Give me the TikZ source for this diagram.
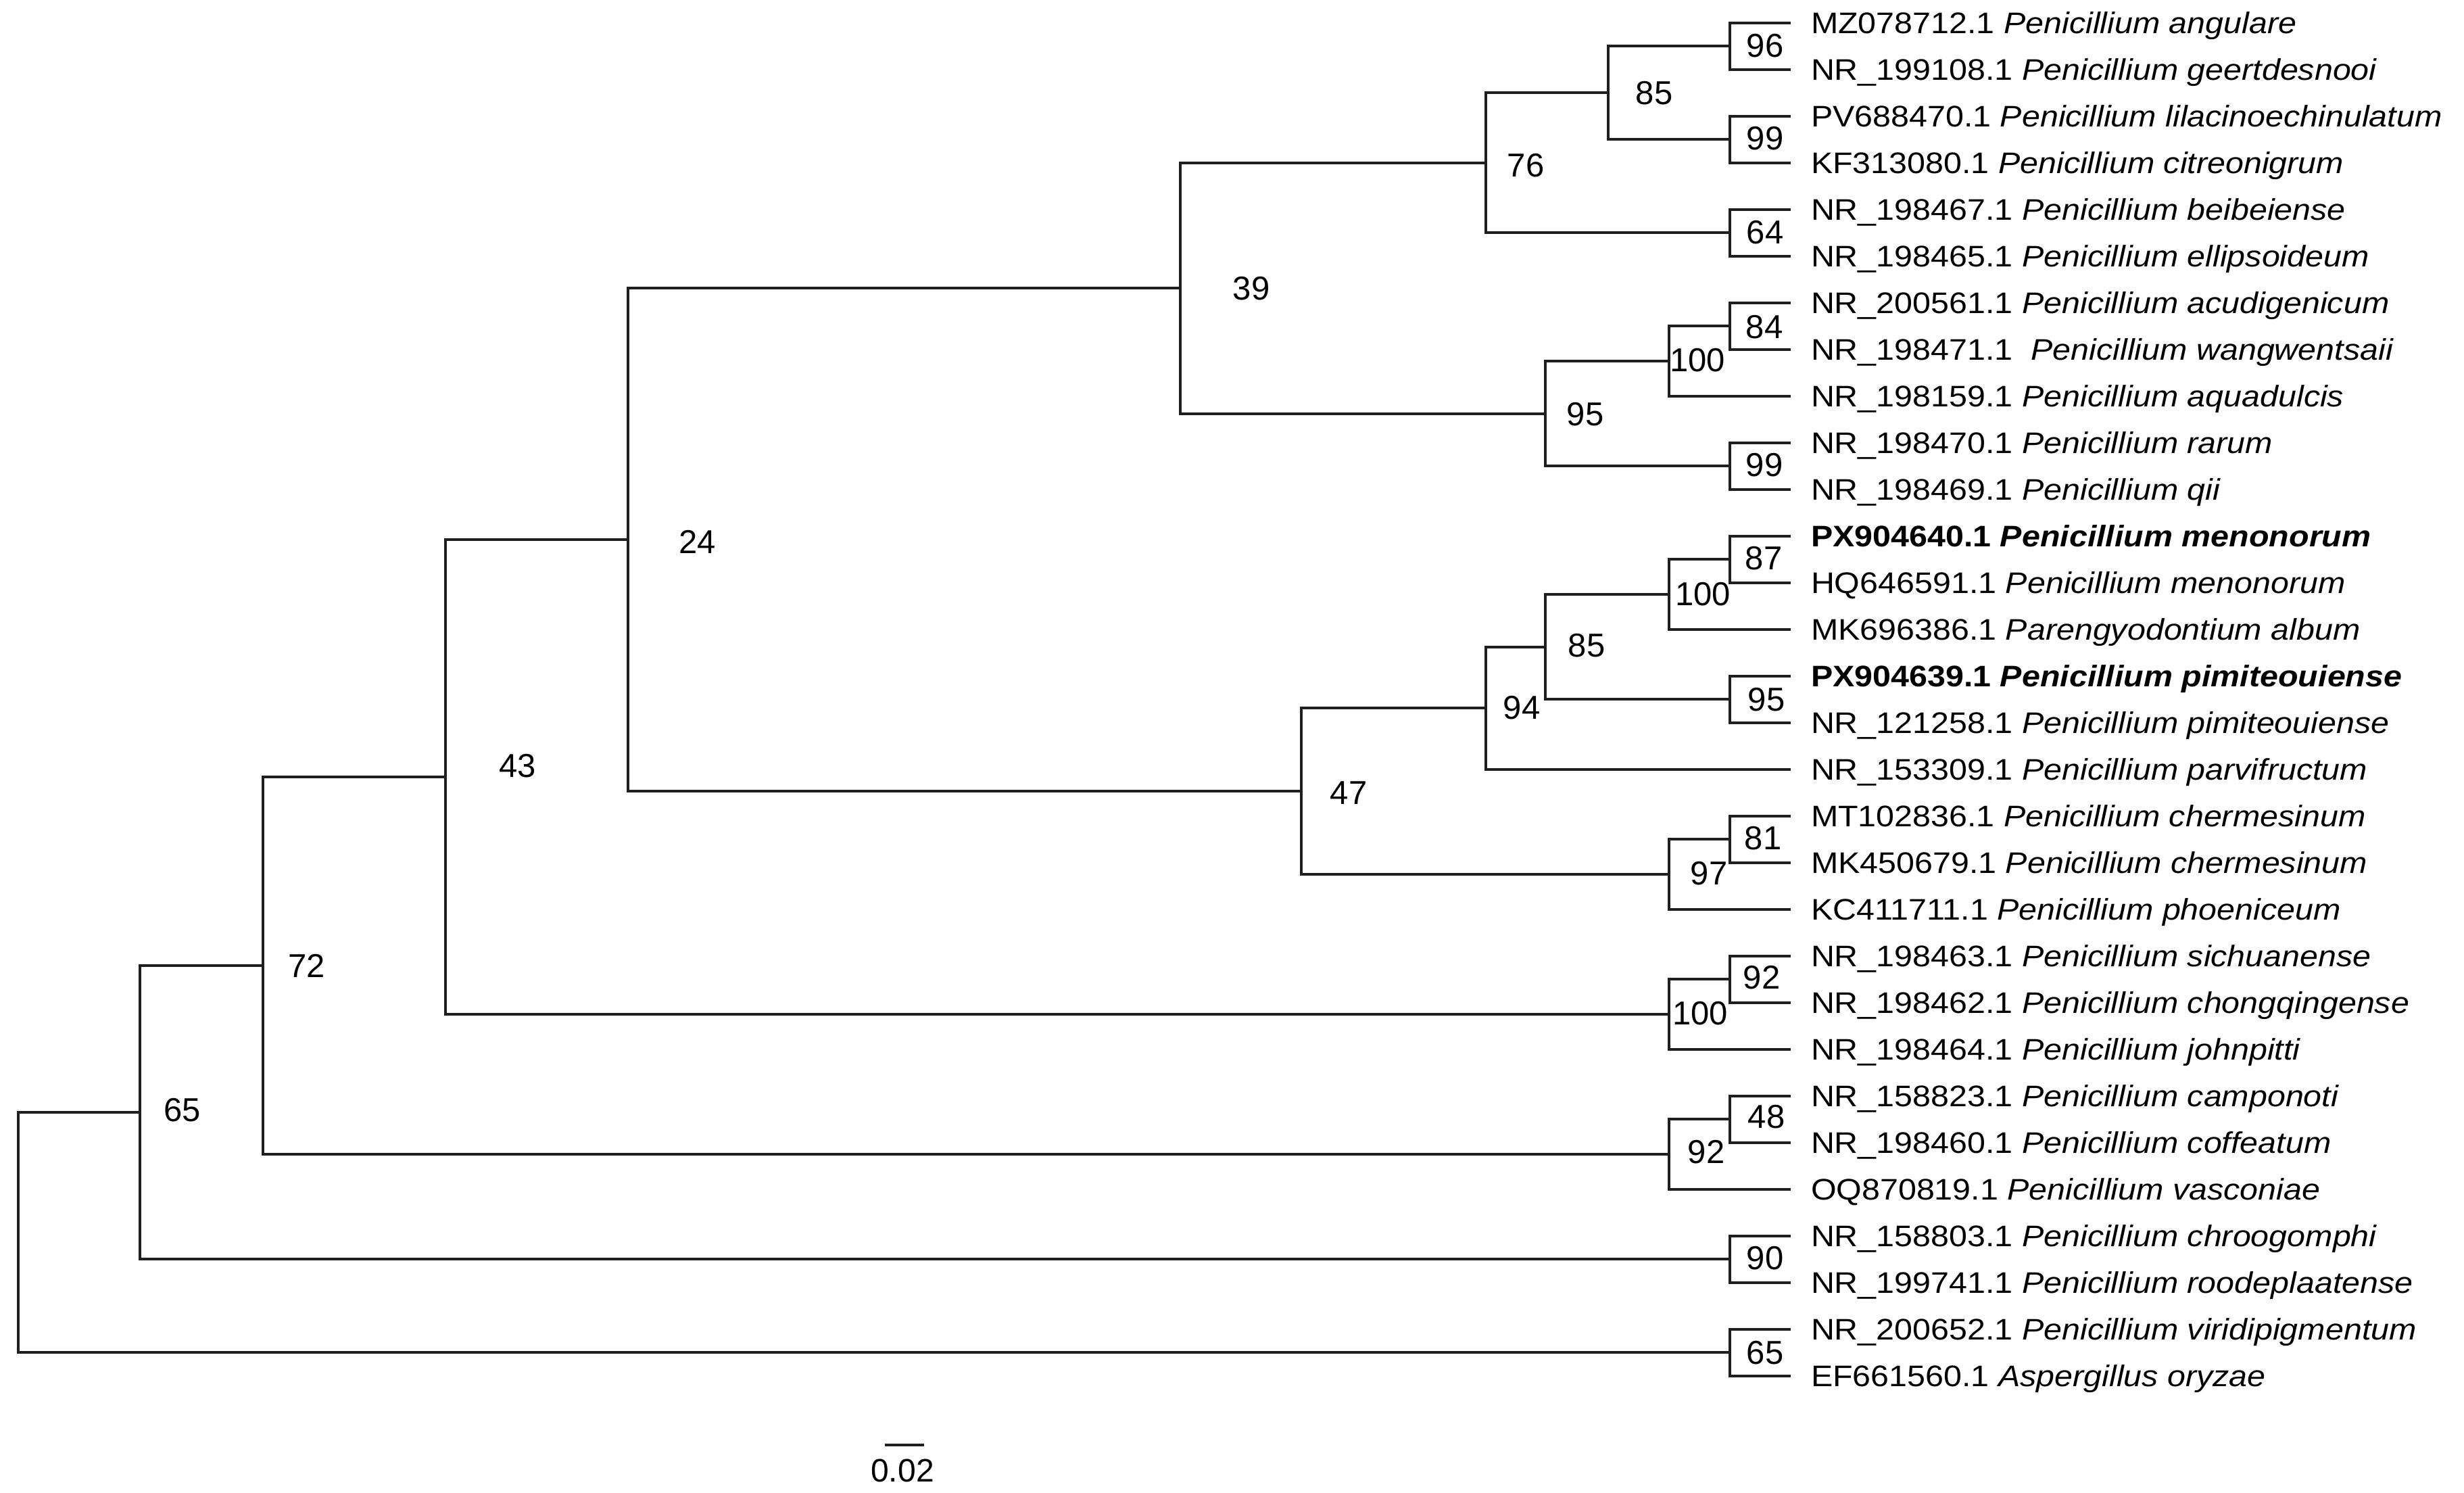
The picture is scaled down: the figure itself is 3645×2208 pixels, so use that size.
\documentclass[tikz,border=0pt]{standalone}
\usepackage{fontspec}
\setmainfont{Liberation Sans}
\newfontfamily\leaffont[FakeStretch=1.1]{Liberation Sans}
\usetikzlibrary{calc}
\newcommand{\leafrow}[3]{%
  \coordinate (t#1) at (2649,#2);
  \node[leaflabel] (l#1) at (2678,#2+15.75) {#3};
}
\begin{document}
\begin{tikzpicture}[x=0.2pt,y=-0.2pt,
  branch/.style={line width=0.8pt, draw=black!88},
  leaflabel/.style={anchor=base west, inner sep=0pt, font=\leaffont\fontsize{8.8pt}{10pt}\selectfont},
  boot/.style={inner sep=0pt, font=\fontsize{9.8pt}{11pt}\selectfont}]
\useasboundingbox[fill=white] (0,0) rectangle (3645,2208);

% leaves
\leafrow{1}{34}{MZ078712.1 \textit{Penicillium angulare}}
\leafrow{2}{103}{NR\_199108.1 \textit{Penicillium geertdesnooi}}
\leafrow{3}{172}{PV688470.1 \textit{Penicillium lilacinoechinulatum}}
\leafrow{4}{241}{KF313080.1 \textit{Penicillium citreonigrum}}
\leafrow{5}{310}{NR\_198467.1 \textit{Penicillium beibeiense}}
\leafrow{6}{379}{NR\_198465.1 \textit{Penicillium ellipsoideum}}
\leafrow{7}{448}{NR\_200561.1 \textit{Penicillium acudigenicum}}
\leafrow{8}{517}{NR\_198471.1\ \ \textit{Penicillium wangwentsaii}}
\leafrow{9}{586}{NR\_198159.1 \textit{Penicillium aquadulcis}}
\leafrow{10}{655}{NR\_198470.1 \textit{Penicillium rarum}}
\leafrow{11}{724}{NR\_198469.1 \textit{Penicillium qii}}
\leafrow{12}{793}{\textbf{PX904640.1 \textit{Penicillium menonorum}}}
\leafrow{13}{862}{HQ646591.1 \textit{Penicillium menonorum}}
\leafrow{14}{931}{MK696386.1 \textit{Parengyodontium album}}
\leafrow{15}{1000}{\textbf{PX904639.1 \textit{Penicillium pimiteouiense}}}
\leafrow{16}{1069}{NR\_121258.1 \textit{Penicillium pimiteouiense}}
\leafrow{17}{1138}{NR\_153309.1 \textit{Penicillium parvifructum}}
\leafrow{18}{1207}{MT102836.1 \textit{Penicillium chermesinum}}
\leafrow{19}{1276}{MK450679.1 \textit{Penicillium chermesinum}}
\leafrow{20}{1345}{KC411711.1 \textit{Penicillium phoeniceum}}
\leafrow{21}{1414}{NR\_198463.1 \textit{Penicillium sichuanense}}
\leafrow{22}{1483}{NR\_198462.1 \textit{Penicillium chongqingense}}
\leafrow{23}{1552}{NR\_198464.1 \textit{Penicillium johnpitti}}
\leafrow{24}{1621}{NR\_158823.1 \textit{Penicillium camponoti}}
\leafrow{25}{1690}{NR\_198460.1 \textit{Penicillium coffeatum}}
\leafrow{26}{1759}{OQ870819.1 \textit{Penicillium vasconiae}}
\leafrow{27}{1828}{NR\_158803.1 \textit{Penicillium chroogomphi}}
\leafrow{28}{1897}{NR\_199741.1 \textit{Penicillium roodeplaatense}}
\leafrow{29}{1966}{NR\_200652.1 \textit{Penicillium viridipigmentum}}
\leafrow{30}{2035}{EF661560.1 \textit{Aspergillus oryzae}}

% internal nodes
\coordinate (p96) at (2559,68.5);
\coordinate (p99a) at (2559,206.5);
\coordinate (n85a) at (2379,137.5);
\coordinate (p64) at (2559,344.5);
\coordinate (n76) at (2198,241);
\coordinate (p84) at (2559,482.5);
\coordinate (n100a) at (2469,534.25);
\coordinate (p99b) at (2559,689.5);
\coordinate (n95a) at (2286,611.9);
\coordinate (n39) at (1746,426.45);
\coordinate (p87) at (2559,827.5);
\coordinate (n100b) at (2469,879.25);
\coordinate (p95) at (2559,1034.5);
\coordinate (n85b) at (2286,956.9);
\coordinate (n94) at (2198,1047.4);
\coordinate (p81) at (2559,1241.5);
\coordinate (n97) at (2469,1293.25);
\coordinate (n47) at (1925,1170.3);
\coordinate (n24) at (929,798.4);
\coordinate (p92) at (2559,1448.5);
\coordinate (n100c) at (2469,1500.25);
\coordinate (n43) at (659,1149.3);
\coordinate (p48) at (2559,1655.5);
\coordinate (n92) at (2469,1707.25);
\coordinate (n72) at (389,1428.3);
\coordinate (p90) at (2559,1862.5);
\coordinate (n65a) at (207,1645.4);
\coordinate (p65) at (2559,2000.5);
\coordinate (root) at (27,1823);

% branches
\foreach \p/\c in {p96/t1,p96/t2,p99a/t3,p99a/t4,n85a/p96,n85a/p99a,
  p64/t5,p64/t6,n76/n85a,n76/p64,
  p84/t7,p84/t8,n100a/p84,n100a/t9,p99b/t10,p99b/t11,n95a/n100a,n95a/p99b,
  n39/n76,n39/n95a,
  p87/t12,p87/t13,n100b/p87,n100b/t14,p95/t15,p95/t16,n85b/n100b,n85b/p95,
  n94/n85b,n94/t17,p81/t18,p81/t19,n97/p81,n97/t20,n47/n94,n47/n97,
  n24/n39,n24/n47,
  p92/t21,p92/t22,n100c/p92,n100c/t23,n43/n24,n43/n100c,
  p48/t24,p48/t25,n92/p48,n92/t26,n72/n43,n72/n92,
  p90/t27,p90/t28,n65a/n72,n65a/p90,
  p65/t29,p65/t30,root/n65a,root/p65}
  \draw[branch] (\p) |- (\c);

% bootstrap values
\node[boot] (b96) at (2611,68) {96};
\node[boot] (b99a) at (2611,205) {99};
\node[boot] (b85a) at (2447,138) {85};
\node[boot] (b64) at (2611,344) {64};
\node[boot] (b76) at (2257,245) {76};
\node[boot] (b39) at (1851,427) {39};
\node[boot] (b84) at (2610,484) {84};
\node[boot] (b100a) at (2511,533) {100};
\node[boot] (b95a) at (2345,613) {95};
\node[boot] (b99b) at (2610,688) {99};
\node[boot] (b24) at (1032,801) {24};
\node[boot] (b87) at (2609,826) {87};
\node[boot] (b100b) at (2519,879) {100};
\node[boot] (b85b) at (2347,955) {85};
\node[boot] (b95) at (2613,1035) {95};
\node[boot] (b94) at (2251,1047) {94};
\node[boot] (b47) at (1995,1173) {47};
\node[boot] (b81) at (2608,1240) {81};
\node[boot] (b97) at (2528,1292) {97};
\node[boot] (b43) at (766,1133) {43};
\node[boot] (b92a) at (2606,1446) {92};
\node[boot] (b100c) at (2515,1499) {100};
\node[boot] (b72) at (454,1428) {72};
\node[boot] (b48) at (2613,1652) {48};
\node[boot] (b92) at (2524,1704) {92};
\node[boot] (b65a) at (270,1642) {65};
\node[boot] (b90) at (2611,1861) {90};
\node[boot] (b65) at (2611,2001) {65};

% scale bar
\coordinate (sbL) at (1309,2137);
\coordinate (sbR) at (1367,2137);
\draw[branch] (sbL) -- (sbR);
\node[boot, font=\fontsize{9.6pt}{11pt}\selectfont] (sbt) at (1335,2175) {0.02};
\end{tikzpicture}
\end{document}
